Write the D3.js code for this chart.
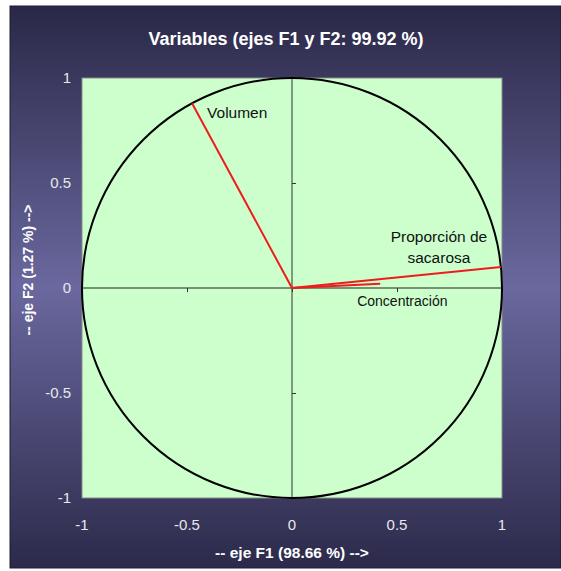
<!DOCTYPE html>
<html><head><meta charset="utf-8">
<script src="https://cdn.jsdelivr.net/npm/d3@7"></script>
<style>body{margin:0;background:#fff}svg{display:block}</style>
</head><body>
<script>
const title = "Variables (ejes F1 y F2: 99.92 %)";
const xTitle = "-- eje F1 (98.66 %) -->";
const yTitle = "-- eje F2 (1.27 %) -->";
const variables = ["Volumen", "Proporción de sacarosa", "Concentración"];
const f1 = [-0.476, 0.995, 0.42];
const f2 = [0.880, 0.100, 0.020];
const tickValues = [-1, -0.5, 0, 0.5, 1];
const tickLabels = ["-1", "-0.5", "0", "0.5", "1"];

const W = 561, H = 571;
const svg = d3.select("body").append("svg").attr("width", W).attr("height", H);
const defs = svg.append("defs");
const g = defs.append("linearGradient").attr("id","bg").attr("x1",0).attr("y1",0).attr("x2",0).attr("y2",1);
g.append("stop").attr("offset","0%").attr("stop-color","#2a2847");
g.append("stop").attr("offset","50%").attr("stop-color","#6a689e");
g.append("stop").attr("offset","100%").attr("stop-color","#2c2a4a");

svg.append("rect").attr("x",10).attr("y",6).attr("width",551).attr("height",562)
  .attr("fill","url(#bg)").attr("stroke","#1e1c33").attr("stroke-width",1);

const x = d3.scaleLinear().domain([-1,1]).range([82,502]);
const y = d3.scaleLinear().domain([-1,1]).range([498,78]);

svg.append("rect").attr("x",x(-1)).attr("y",y(1)).attr("width",x(1)-x(-1)).attr("height",y(-1)-y(1))
  .attr("fill","#ccffcc").attr("stroke","#8a8a8a").attr("stroke-width",1);

// axes through origin
svg.append("line").attr("x1",x(-1)).attr("x2",x(1)).attr("y1",y(0)).attr("y2",y(0)).attr("stroke","#222").attr("stroke-width",1);
svg.append("line").attr("x1",x(0)).attr("x2",x(0)).attr("y1",y(-1)).attr("y2",y(1)).attr("stroke","#333").attr("stroke-width",1);
const xt = svg.append("g").attr("transform",`translate(0,${y(0)})`)
  .call(d3.axisBottom(x).tickValues(tickValues).tickSize(4).tickFormat(""));
xt.select(".domain").remove(); xt.selectAll("line").attr("stroke","#333");
const yt = svg.append("g").attr("transform",`translate(${x(0)},0)`)
  .call(d3.axisRight(y).tickValues(tickValues).tickSize(4).tickFormat(""));
yt.select(".domain").remove(); yt.selectAll("line").attr("stroke","#333");

// circle
svg.append("circle").attr("cx",x(0)).attr("cy",y(0)).attr("r",x(1)-x(0))
  .attr("fill","none").attr("stroke","#000").attr("stroke-width",2);

// vectors
svg.selectAll("line.vec").data(variables).enter().append("line").attr("class","vec")
  .attr("x1",x(0)).attr("y1",y(0))
  .attr("x2",(d,i)=>x(f1[i])).attr("y2",(d,i)=>y(f2[i]))
  .attr("stroke","#ee1c1c").attr("stroke-width",2);

// labels
const lab = svg.append("g").attr("font-family","Liberation Sans, Arial, sans-serif").attr("fill","#111");
lab.append("text").attr("x",x(f1[0])+15).attr("y",y(f2[0])+15).attr("font-size",15.5).text(variables[0]);
const p = lab.append("text").attr("y",y(f2[1])-25).attr("font-size",15.5).attr("text-anchor","middle");
p.append("tspan").attr("x",x(f1[1])-62).attr("dy",0).text("Proporción de");
p.append("tspan").attr("x",x(f1[1])-62).attr("dy",21).text("sacarosa");
lab.append("text").attr("x",x(f1[2])-23).attr("y",y(f2[2])+22).attr("font-size",14).text(variables[2]);

// tick labels
const tl = svg.append("g").attr("font-family","Liberation Sans, Arial, sans-serif").attr("font-size",15).attr("fill","#e8e8ee");
tl.selectAll("text.xl").data(tickValues).enter().append("text").attr("class","xl")
  .attr("x",d=>x(d)).attr("y",530).attr("text-anchor","middle").text((d,i)=>tickLabels[i]);
tl.selectAll("text.yl").data(tickValues).enter().append("text").attr("class","yl")
  .attr("x",71).attr("y",d=>y(d)+5).attr("text-anchor","end").text((d,i)=>tickLabels[i]);

// titles
const tt = svg.append("g").attr("font-family","Liberation Sans, Arial, sans-serif").attr("font-weight","bold").attr("fill","#fff");
tt.append("text").attr("x",286).attr("y",45).attr("font-size",18).attr("text-anchor","middle").text(title);
tt.append("text").attr("x",292).attr("y",558).attr("font-size",15.5).attr("text-anchor","middle").text(xTitle);
tt.append("text").attr("transform","translate(33,270) rotate(-90)").attr("font-size",14).attr("text-anchor","middle").text(yTitle);
</script>
</body></html>
